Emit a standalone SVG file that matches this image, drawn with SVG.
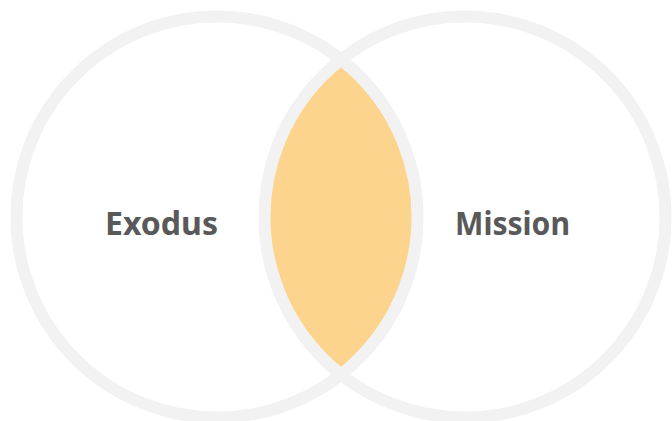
<svg xmlns="http://www.w3.org/2000/svg" width="672" height="421" viewBox="0 0 672 421">
<style>
.ring{fill:none;stroke:#f2f2f2;stroke-width:12}
.lbl{font-family:"Noto Sans","Open Sans","DejaVu Sans",sans-serif;font-weight:700;font-size:33px;fill:#595959;text-anchor:middle}
</style>
<rect width="672" height="421" fill="#ffffff"/>
<g id="overlap">
<path d="M341 59.44 A200.5 200.5 0 0 1 341 374.56 A200.5 200.5 0 0 1 341 59.44 Z" fill="#fcd48d"/>
</g>
<g id="exodus">
<circle class="ring" cx="217" cy="217" r="200.5"/>
<text class="lbl" x="161.5" y="235" textLength="113" lengthAdjust="spacingAndGlyphs">Exodus</text>
</g>
<g id="mission">
<circle class="ring" cx="465" cy="217" r="200.5"/>
<text class="lbl" x="512.5" y="235" textLength="115" lengthAdjust="spacingAndGlyphs">Mission</text>
</g>
</svg>
